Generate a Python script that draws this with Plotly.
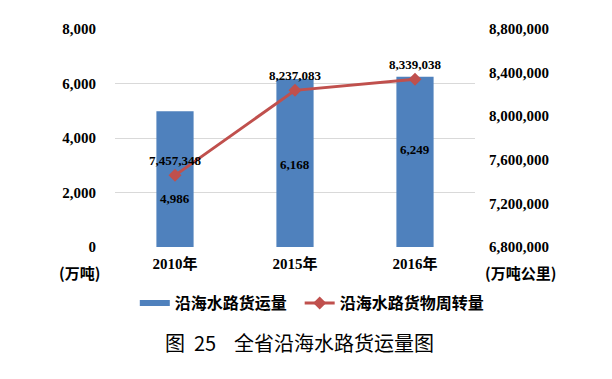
import plotly.graph_objects as go

categories = ["2010年", "2015年", "2016年"]
freight_volume = [4986, 6168, 6249]          # 万吨
freight_turnover = [7457348, 8237083, 8339038]  # 万吨公里

left_ticks = [0, 2000, 4000, 6000, 8000]
right_ticks = [6800000, 7200000, 7600000, 8000000, 8400000, 8800000]

BLUE = "#4F81BD"
RED = "#C0504D"
SERIF = "Liberation Serif, Times New Roman, serif"
CJK = "Noto Sans CJK SC"

fig = go.Figure()
fig.add_trace(go.Bar(
    x=categories, y=freight_volume, name="沿海水路货运量",
    marker=dict(color=BLUE, line=dict(width=0)), width=0.31, yaxis="y",
    showlegend=False,
))
# legend-only entry drawn as a wide flat swatch like the original
fig.add_trace(go.Scatter(
    x=[None], y=[None], name="沿海水路货运量", mode="lines",
    line=dict(color=BLUE, width=6), legend="legend", showlegend=True,
))
fig.add_trace(go.Scatter(
    x=categories, y=freight_turnover, name="沿海水路货物周转量",
    mode="lines+markers+text", yaxis="y2",
    line=dict(color=RED, width=3),
    marker=dict(symbol="diamond", size=10, color=RED),
    text=[f"{v:,}" for v in freight_turnover], textposition="top center",
    textfont=dict(family=SERIF, size=13, color="black", weight="bold"),
    cliponaxis=False, legend="legend2",
))

bar_label_shift = [-19, -2, 12]
for c, v, s in zip(categories, freight_volume, bar_label_shift):
    fig.add_annotation(x=c, y=v / 2, yref="y", text=f"{v:,}", showarrow=False,
                       yshift=s, font=dict(family=SERIF, size=13, color="black", weight="bold"))

unit_font = dict(family=CJK, size=15, color="black", weight="bold")
fig.add_annotation(x=-0.1, y=-0.115, xref="paper", yref="paper", text="(万吨)",
                   showarrow=False, xanchor="center", yanchor="middle", font=unit_font)
fig.add_annotation(x=1.125, y=-0.115, xref="paper", yref="paper", text="(万吨公里)",
                   showarrow=False, xanchor="center", yanchor="middle", font=unit_font)
fig.add_annotation(x=0.512, y=-0.44, xref="paper", yref="paper",
                   text="图&nbsp;&nbsp;25&nbsp;&nbsp;&nbsp;&nbsp;全省沿海水路货运量图",
                   showarrow=False, xanchor="center", yanchor="middle",
                   font=dict(family=CJK, size=20, color="black"))

tickfont = dict(family=SERIF, size=15, color="black", weight="bold")
legend_font = dict(family=CJK, size=16, color="black", weight="bold")

fig.update_layout(
    template="none",
    width=612, height=379,
    margin=dict(l=115, r=137, t=29, b=132, autoexpand=False),
    paper_bgcolor="white", plot_bgcolor="white",
    showlegend=True,
    legend=dict(orientation="h", x=0.055, xanchor="left", y=-0.257, yanchor="middle",
                font=legend_font, itemwidth=30, bgcolor="rgba(0,0,0,0)"),
    legend2=dict(orientation="h", x=0.513, xanchor="left", y=-0.257, yanchor="middle",
                 font=legend_font, itemwidth=30, bgcolor="rgba(0,0,0,0)"),
    xaxis=dict(tickfont=dict(family=SERIF + ", " + CJK, size=15, color="black", weight="bold"),
               showgrid=False, ticks="", showline=False, zeroline=False,
               automargin=False, ticklabelstandoff=6),
    yaxis=dict(range=[0, 8000], tickvals=left_ticks, tickformat=",",
               tickfont=tickfont,
               gridcolor="#D9D9D9", gridwidth=1, zeroline=False, showline=False,
               ticks="", automargin=False, ticklabelstandoff=18),
    yaxis2=dict(range=[6800000, 8800000], tickvals=right_ticks, tickformat=",",
                overlaying="y", side="right", showgrid=False, zeroline=False,
                tickfont=tickfont,
                ticks="", automargin=False, ticklabelstandoff=13),
)

fig.write_html("out.html", config={"displayModeBar": False},
               post_script="document.body.style.margin='0';document.body.style.overflow='hidden';")
